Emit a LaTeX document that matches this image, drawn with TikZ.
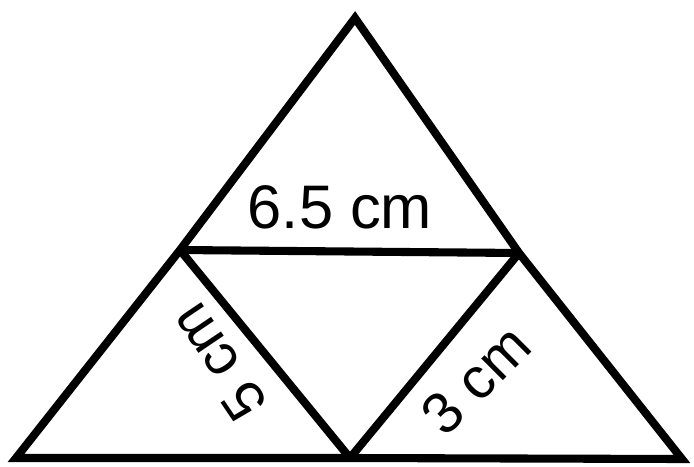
\documentclass[tikz,border=0pt]{standalone}
\usepackage{fontspec}
\setmainfont{Liberation Sans}
\usepackage{tikz}
\usetikzlibrary{calc}

\begin{document}
\begin{tikzpicture}[
    x=0.02cm, y=-0.02cm,
    edge/.style={
        draw,
        line width=4.6pt,
        line join=miter
    },
    lengthlabel/.style={
        inner sep=0pt,
        font=\fontsize{35}{42}\selectfont
    }
]

\useasboundingbox (0,0) rectangle (694,467);

% =========================
% Corner points
% =========================

\coordinate (apex) at (355,18);
\coordinate (bottomleft) at (16,458);
\coordinate (bottomright) at (682,459);

\coordinate (leftmid) at (180,250);
\coordinate (rightmid) at (519,253);
\coordinate (bottommid) at (350,458);

% =========================
% Outer triangle
% =========================

\draw[edge]
(apex) -- (leftmid) -- (bottomleft) -- (bottommid)
-- (bottomright) -- (rightmid) -- cycle;

% =========================
% Inner triangle
% =========================

\draw[edge] (leftmid) -- (rightmid);
\draw[edge] (leftmid) -- (bottommid);
\draw[edge] (rightmid) -- (bottommid);

% =========================
% Labels
% =========================

\node[lengthlabel] (toplabel) at (340,207) {6.5 cm};

\node[lengthlabel, font=\fontsize{33}{40}\selectfont, rotate=124] (leftlabel) at (218,362) {5 cm};

\node[lengthlabel, font=\fontsize{33}{40}\selectfont, rotate=45] (rightlabel) at (476,380) {3 cm};

\end{tikzpicture}
\end{document}
